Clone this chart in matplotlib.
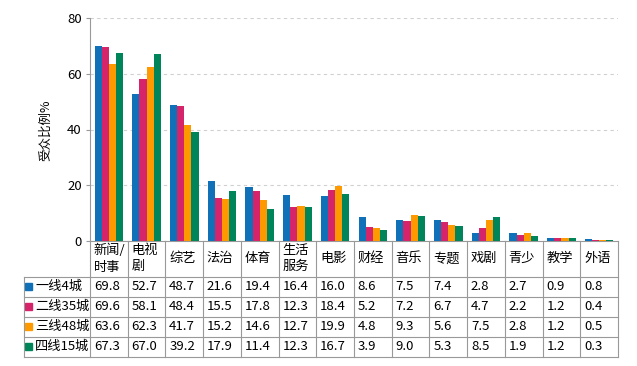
import numpy as np
import matplotlib.pyplot as plt
from matplotlib.transforms import blended_transform_factory
from matplotlib.patches import Rectangle

plt.rcParams['font.family'] = ['Noto Sans CJK SC', 'DejaVu Sans']

categories = ['新闻/\n时事', '电视\n剧', '综艺', '法治', '体育', '生活\n服务', '电影',
              '财经', '音乐', '专题', '戏剧', '青少', '教学', '外语']
series = ['一线4城', '二线35城', '三线48城', '四线15城']
tier1 = [69.8, 52.7, 48.7, 21.6, 19.4, 16.4, 16.0, 8.6, 7.5, 7.4, 2.8, 2.7, 0.9, 0.8]
tier2 = [69.6, 58.1, 48.4, 15.5, 17.8, 12.3, 18.4, 5.2, 7.2, 6.7, 4.7, 2.2, 1.2, 0.4]
tier3 = [63.6, 62.3, 41.7, 15.2, 14.6, 12.7, 19.9, 4.8, 9.3, 5.6, 7.5, 2.8, 1.2, 0.5]
tier4 = [67.3, 67.0, 39.2, 17.9, 11.4, 12.3, 16.7, 3.9, 9.0, 5.3, 8.5, 1.9, 1.2, 0.3]
values = [tier1, tier2, tier3, tier4]
colors = ['#1070b8', '#d6246a', '#ff9900', '#00855a']

W, H = 637, 366
ax_l, ax_r, ax_t, ax_b = 90, 618, 18, 241
fig = plt.figure(figsize=(W / 100, H / 100), dpi=100)
ax = fig.add_axes([ax_l / W, 1 - ax_b / H, (ax_r - ax_l) / W, (ax_b - ax_t) / H])

n = len(categories)
x = np.arange(n)
bw = 0.19
for k, (vals, c) in enumerate(zip(values, colors)):
    ax.bar(x + (k - 1.5) * bw, vals, width=bw, color=c, linewidth=0, zorder=3)

ax.set_xlim(-0.5, n - 0.5)
ax.set_ylim(0, 80)
ax.set_yticks([0, 20, 40, 60, 80])
ax.set_xticks([])
ax.tick_params(axis='y', length=3, color='#999999', labelsize=9.5, pad=3)
ax.grid(axis='y', linestyle=(0, (3, 3)), color='#d0d0d0', linewidth=0.8, zorder=0)
for s in ['top', 'right']:
    ax.spines[s].set_visible(False)
ax.spines['left'].set_color('#999999')
ax.spines['bottom'].set_color('#999999')

fig.text(46 / W, 1 - 130 / H, '受众比例%', rotation=90, ha='center', va='center', fontsize=9)

# data table under the axes
tr = blended_transform_factory(ax.transData, ax.transAxes)
axh = ax_b - ax_t
def ya(py):
    return -(py - ax_b) / axh

line_kw = dict(color='#999999', linewidth=0.8, transform=tr, clip_on=False)
rows_y = [276.5, 296.5, 316.5, 336.5, 356.5]
left_col = -0.5 - (ax_l - 24) / ((ax_r - ax_l) / n)

# horizontal lines
for y in rows_y:
    ax.plot([left_col, n - 0.5], [ya(y)] * 2, **line_kw)
# vertical lines
for b in np.arange(n + 1) - 0.5:
    ax.plot([b, b], [ya(ax_b), ya(rows_y[-1])], **line_kw)
ax.plot([left_col, left_col], [ya(rows_y[0]), ya(rows_y[-1])], **line_kw)

# header labels
for i, cat in enumerate(categories):
    ax.text(i - 0.5 + 0.1, ya((ax_b + rows_y[0]) / 2), cat, transform=tr,
            ha='left', va='center', fontsize=9.5, linespacing=1.3, clip_on=False)

# rows
sq = 7
for r, (name, vals, c) in enumerate(zip(series, values, colors)):
    yc = ya((rows_y[r] + rows_y[r + 1]) / 2)
    ax.add_patch(Rectangle((left_col + 0.03, yc - sq / 2 / axh), 0.19, sq / axh,
                           color=c, transform=tr, clip_on=False))
    ax.text(left_col + 0.3, yc, name, transform=tr, ha='left', va='center',
            fontsize=9.5, clip_on=False)
    for i, v in enumerate(vals):
        ax.text(i - 0.5 + 0.1, yc, f'{v:.1f}', transform=tr, ha='left', va='center',
                fontsize=9.5, clip_on=False)

fig.savefig('out.png', dpi=100)
